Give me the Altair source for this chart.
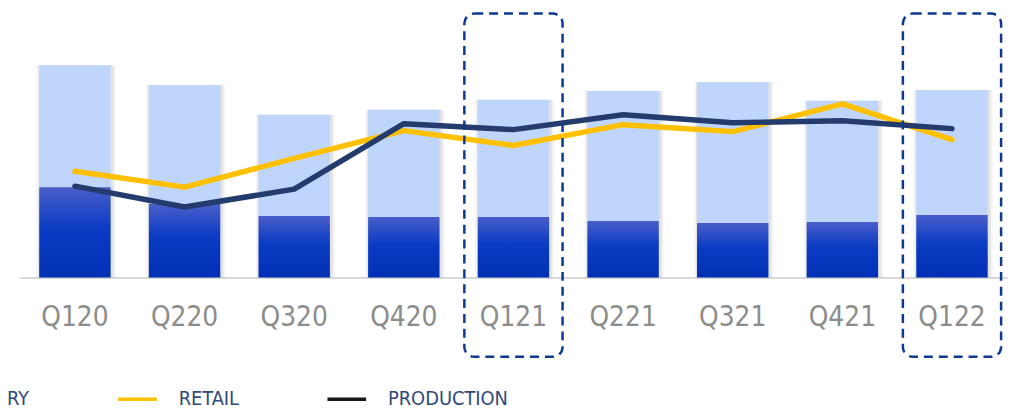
import altair as alt
import pandas as pd

# ---- data (units = relative index) ----
quarters = ["Q120", "Q220", "Q320", "Q420", "Q121", "Q221", "Q321", "Q421", "Q122"]
inventory_dark = [91, 74, 62, 61, 61, 57, 55, 56, 63]
inventory_total = [214, 194, 164, 169, 179, 188, 197, 178, 189]
retail = [107, 91, 120, 148, 133, 154, 147, 175, 139]
production = [92, 71, 89, 155, 149, 164, 156, 158, 150]
highlighted = ["Q121", "Q122"]
legend_items = ["INVENTORY", "RETAIL", "PRODUCTION"]

# ---- styling constants ----
FONT = "DejaVu Sans Condensed, Liberation Sans, sans-serif"
BOX_LOW, BOX_HIGH = -80, 266

bars = pd.DataFrame({"quarter": quarters, "dark": inventory_dark, "total": inventory_total})
lines = pd.DataFrame({"quarter": quarters, "retail": retail, "production": production})
boxes = pd.DataFrame({"quarter": highlighted})
legend_df = pd.DataFrame({"series": legend_items})

x_enc = alt.X(
    "quarter:N",
    sort=quarters,
    scale=alt.Scale(paddingInner=0.348, paddingOuter=0.176),
    axis=alt.Axis(
        title=None, labelFont=FONT, labelFontSize=28, labelColor="#8c8c8c",
        ticks=False, labelPadding=26, labelAngle=0,
        domainColor="#d9d9d9", domainWidth=2,
    ),
)
y_scale = alt.Scale(domain=[0, 260], nice=False, zero=True)

base = alt.Chart(bars)

shadow1 = base.mark_bar(width=80, color="#000000", opacity=0.04, xOffset=1).encode(
    x=x_enc, y=alt.Y("total:Q", scale=y_scale, axis=None), y2=alt.datum(0)
)
shadow2 = base.mark_bar(width=76, color="#000000", opacity=0.07, xOffset=1).encode(
    x=x_enc, y=alt.Y("total:Q", scale=y_scale, axis=None), y2=alt.datum(0)
)
light = base.mark_bar(width=72, color="#c0d5fb").encode(
    x=x_enc, y=alt.Y("dark:Q", scale=y_scale, axis=None), y2="total:Q"
)
dark = base.mark_bar(
    width=72,
    color=alt.Gradient(
        gradient="linear",
        stops=[
            alt.GradientStop(color="#4a5ec9", offset=0),
            alt.GradientStop(color="#0a3cc4", offset=0.45),
            alt.GradientStop(color="#0030b4", offset=1),
        ],
        x1=0, x2=0, y1=0, y2=1,
    ),
).encode(x=x_enc, y=alt.Y("dark:Q", scale=y_scale, axis=None), y2=alt.datum(0))

retail_line = alt.Chart(lines).mark_line(
    color="#ffc000", strokeWidth=5.5, strokeCap="round", strokeJoin="round"
).encode(x=x_enc, y=alt.Y("retail:Q", scale=y_scale, axis=None))

prod_line = alt.Chart(lines).mark_line(
    color="#243b6e", strokeWidth=5.5, strokeCap="round", strokeJoin="round"
).encode(x=x_enc, y=alt.Y("production:Q", scale=y_scale, axis=None))

legend_layer = alt.Chart(legend_df).mark_line().encode(
    color=alt.Color(
        "series:N",
        scale=alt.Scale(domain=legend_items, range=["#0033b8", "#ffc000", "#1a1a1a"]),
        legend=alt.Legend(
            title=None, orient="none", legendX=-157, legendY=361,
            direction="horizontal", symbolType="stroke", symbolSize=1521,
            symbolStrokeWidth=3.5, labelFont=FONT, labelFontSize=20,
            labelColor="#2f4a7a", labelOffset=20, columnPadding=82, padding=0,
        ),
    )
).transform_filter("false")

box_layer = alt.Chart(boxes).mark_bar(
    width=99, fill="transparent", stroke="#0b3a8f", strokeWidth=2.5,
    strokeDash=[9, 6], cornerRadius=10,
).encode(x=x_enc, y=alt.datum(BOX_LOW), y2=alt.datum(BOX_HIGH))

chart = alt.layer(
    shadow1, shadow2, light, dark, retail_line, prod_line, legend_layer, box_layer
).properties(
    width=995, height=260,
    autosize=alt.AutoSizeParams(type="none"),
    padding={"left": 12, "top": 10, "right": 3, "bottom": 132},
    background="white",
).configure_view(strokeWidth=0)

chart.save("out.html", embed_options={"renderer": "svg", "actions": False})
